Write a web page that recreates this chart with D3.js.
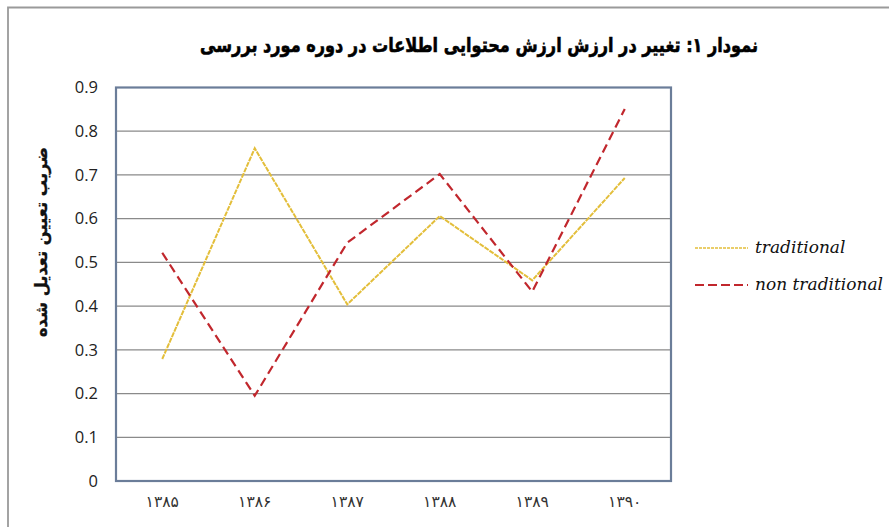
<!DOCTYPE html>
<html>
<head>
<meta charset="utf-8">
<script src="https://cdn.jsdelivr.net/npm/d3@7"></script>
<style>
  body { margin: 0; background: #fff; }
  svg { display: block; }
</style>
</head>
<body>
<svg id="chart" width="889" height="527"></svg>
<script>
const TITLE = "نمودار ۱: تغییر در ارزش ارزش محتوایی اطلاعات در دوره مورد بررسی";
const Y_LABEL = "ضریب تعیین تعدیل شده";
const years = ["۱۳۸۵", "۱۳۸۶", "۱۳۸۷", "۱۳۸۸", "۱۳۸۹", "۱۳۹۰"];
const traditional = [0.279, 0.761, 0.404, 0.606, 0.459, 0.693];
const nonTraditional = [0.522, 0.195, 0.545, 0.702, 0.433, 0.851];
const yTicks = [0, 0.1, 0.2, 0.3, 0.4, 0.5, 0.6, 0.7, 0.8, 0.9];

const TRAD_COLOR = "#E3BE3A";
const NONTRAD_COLOR = "#C1272D";
const GRID_COLOR = "#8A8A8A";
const BORDER_COLOR = "#6B7D99";

const svg = d3.select("#chart");

const plot = { left: 116, right: 671, top: 87.5, bottom: 481 };

const x = d3.scaleBand()
  .domain(years)
  .range([plot.left, plot.right]);

const y = d3.scaleLinear()
  .domain([0, 0.9])
  .range([plot.bottom, plot.top]);

// outer chart frame (only top and left edges show in the picture)
svg.append("path")
  .attr("d", "M8,540 L8,7.5 L900,7.5")
  .attr("fill", "none")
  .attr("stroke", "#9a9a9a")
  .attr("stroke-width", 1.8);

// title
svg.append("text")
  .attr("x", 479)
  .attr("y", 52)
  .attr("text-anchor", "middle")
  .attr("direction", "rtl")
  .attr("font-family", "'DejaVu Sans', sans-serif")
  .attr("font-weight", "bold")
  .attr("font-size", "20px")
  .attr("textLength", 558)
  .attr("lengthAdjust", "spacingAndGlyphs")
  .attr("stroke", "#000")
  .attr("stroke-width", 0.6)
  .attr("fill", "#000")
  .text(TITLE);

// gridlines
svg.append("g")
  .selectAll("line")
  .data(yTicks.filter((t) => t > 0 && t < 0.9))
  .enter()
  .append("line")
  .attr("x1", plot.left)
  .attr("x2", plot.right)
  .attr("y1", (d) => y(d))
  .attr("y2", (d) => y(d))
  .attr("stroke", GRID_COLOR)
  .attr("stroke-width", 1.2);

// y axis labels
const yAxis = svg.append("g")
  .attr("transform", `translate(${plot.left - 18},0)`)
  .call(d3.axisLeft(y).tickValues(yTicks).tickSize(0).tickPadding(0)
    .tickFormat((d) => (d === 0 ? "0" : d3.format(".1f")(d))));
yAxis.select(".domain").remove();
yAxis.selectAll("text")
  .attr("font-family", "'Open Sans', sans-serif")
  .attr("font-size", "16.5px")
  .attr("fill", "#222");

// x axis labels
const xAxis = svg.append("g")
  .attr("transform", `translate(0,${plot.bottom + 15})`)
  .call(d3.axisBottom(x).tickSize(0).tickPadding(0));
xAxis.select(".domain").remove();
xAxis.selectAll("text")
  .attr("font-family", "'DejaVu Sans', sans-serif")
  .attr("font-size", "15.5px")
  .attr("fill", "#333");

// y axis title
svg.append("text")
  .attr("transform", "translate(47,242) rotate(-90)")
  .attr("text-anchor", "middle")
  .attr("direction", "rtl")
  .attr("font-family", "'DejaVu Sans', sans-serif")
  .attr("font-weight", "bold")
  .attr("font-size", "17px")
  .attr("textLength", 190)
  .attr("lengthAdjust", "spacingAndGlyphs")
  .attr("stroke", "#111")
  .attr("stroke-width", 0.3)
  .attr("fill", "#111")
  .text(Y_LABEL);

const line = d3.line()
  .x((d, i) => x(years[i]) + x.bandwidth() / 2)
  .y((d) => y(d));

svg.append("path")
  .datum(traditional)
  .attr("d", line)
  .attr("fill", "none")
  .attr("stroke", TRAD_COLOR)
  .attr("stroke-width", 2)
  .attr("stroke-dasharray", "5,1");

svg.append("path")
  .datum(nonTraditional)
  .attr("d", line)
  .attr("fill", "none")
  .attr("stroke", NONTRAD_COLOR)
  .attr("stroke-width", 2.2)
  .attr("stroke-dasharray", "9,5");

// plot border
svg.append("rect")
  .attr("x", plot.left)
  .attr("y", plot.top)
  .attr("width", plot.right - plot.left)
  .attr("height", plot.bottom - plot.top)
  .attr("fill", "none")
  .attr("stroke", BORDER_COLOR)
  .attr("stroke-width", 2.2);

// legend
const legendItems = [
  { name: "traditional", color: TRAD_COLOR, dash: "3,1", width: 1.6 },
  { name: "non traditional", color: NONTRAD_COLOR, dash: "9,4", width: 2 },
];

const legend = svg.selectAll(".legend")
  .data(legendItems)
  .enter()
  .append("g")
  .attr("class", "legend")
  .attr("transform", (d, i) => `translate(695,${248 + i * 37})`);

legend.append("line")
  .attr("x1", 0)
  .attr("x2", 53)
  .attr("stroke", (d) => d.color)
  .attr("stroke-width", (d) => d.width)
  .attr("stroke-dasharray", (d) => d.dash);

legend.append("text")
  .attr("x", 60)
  .attr("y", 5)
  .attr("font-family", "'DejaVu Serif', 'Liberation Serif', serif")
  .attr("font-style", "italic")
  .attr("font-size", "17px")
  .attr("fill", "#111")
  .text((d) => d.name);
</script>
</body>
</html>
